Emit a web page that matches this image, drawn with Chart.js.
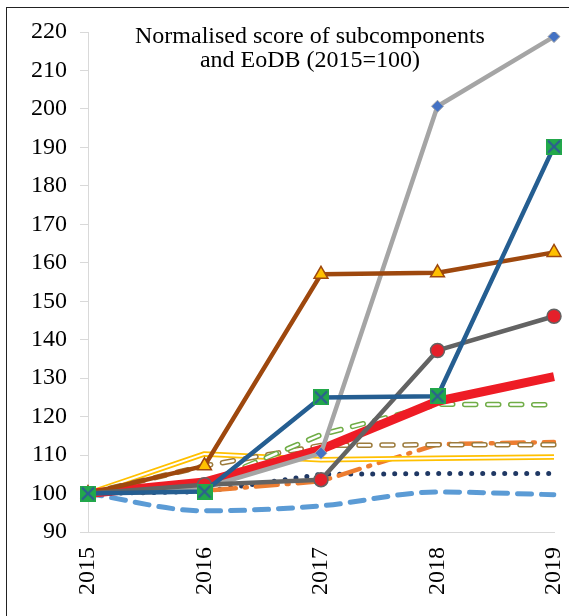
<!DOCTYPE html>
<html>
<head>
<meta charset="utf-8">
<script src="https://cdn.jsdelivr.net/npm/chart.js@4"></script>
<style>
  html, body { margin:0; padding:0; background:#fff; overflow:hidden; }
  #wrap { position:relative; width:569px; height:616px; }
  #frame { position:absolute; left:6px; top:7px; width:700px; height:700px; border:1.5px solid #222; }
  canvas { position:absolute; left:0; top:0; }
</style>
</head>
<body>
<div id="wrap">
  <div id="frame"></div>
  <canvas id="rel1" width="569" height="616"></canvas>
</div>
<script>
var years = ['2015', '2016', '2017', '2018', '2019'];
var titleLines = ['Normalised score of subcomponents', 'and EoDB (2015=100)'];

// series (2015 = 100)
var lightGray = [100, 101.5, 110.5, 200.7, 218.8];
var darkBlue = [100, 100.5, 125, 125.3, 190.2];
var brown = [100, 107.2, 157, 157.4, 162.7];
var darkGray = [100, 102.3, 103.6, 137.2, 146.1];
var red = [100, 103, 111.5, 124, 130.4];
var green = [100, 102.5, 115.3, 123.2, 123.1];
var olive = [100, 107.2, 112.5, 112.7, 112.7];
var yellow = [100, 110.3, 108.8, 109.2, 109.5];
var orange = [100, 100.7, 103.2, 112.8, 113.4];
var navy = [100, 100.5, 105, 105.2, 105.2];
var lightBlue = [100, 95.5, 96.8, 100.4, 99.7];

// marcador quadrado verde com X azul
var sqX = document.createElement('canvas');
sqX.width = 16; sqX.height = 16;
var c = sqX.getContext('2d');
c.fillStyle = '#22A84A';
c.fillRect(0, 0, 16, 16);
c.strokeStyle = '#2E5C94';
c.lineWidth = 2;
c.beginPath();
c.moveTo(2, 2); c.lineTo(14, 14);
c.moveTo(14, 2); c.lineTo(2, 14);
c.stroke();

var serif = "'Liberation Serif', 'Times New Roman', serif";

var titlePlugin = {
	id: 'innerTitle',
	afterDraw: function(chart) {
		var ctx = chart.ctx;
		ctx.save();
		ctx.font = '24px ' + serif;
		ctx.fillStyle = '#000';
		ctx.textAlign = 'center';
		ctx.textBaseline = 'alphabetic';
		ctx.fillText(titleLines[0], 310, 43);
		ctx.fillText(titleLines[1], 310, 67);
		ctx.restore();
	}
};

function noPt() { return { pointRadius:0, pointHoverRadius:0 }; }

var rel1 = new Chart(document.getElementById('rel1'), {
	type:'line',
	data:{
		labels:years,
		datasets:[
		Object.assign({ label:'darkBlue', data:darkBlue, borderColor:'#255E91', borderWidth:4.5,
			pointStyle:sqX, pointRadius:8, order:1 }),
		Object.assign({ label:'darkGray', data:darkGray, borderColor:'#636363', borderWidth:4.5,
			pointStyle:'circle', pointRadius:7, pointBackgroundColor:'#E4202A', pointBorderColor:'#636363', pointBorderWidth:1.5, order:2 }),
		Object.assign({ label:'brown', data:brown, borderColor:'#9E480E', borderWidth:4.5,
			pointStyle:'triangle', pointRadius:8, pointBackgroundColor:'#FFC000', pointBorderColor:'#9E480E', pointBorderWidth:1.5, order:3 }),
		Object.assign({ label:'lightGray', data:lightGray, borderColor:'#A5A5A5', borderWidth:4.5,
			pointStyle:'rectRot', pointRadius:6, pointBackgroundColor:'#4472C4', pointBorderColor:'#A5A5A5', pointBorderWidth:1, order:4 }),
		Object.assign({ label:'red', data:red, borderColor:'#EE1C25', borderWidth:9, order:5 }, noPt()),
		Object.assign({ label:'greenIn', data:green, borderColor:'#fff', borderWidth:2.5, borderDash:[11, 12], borderCapStyle:'round', order:6 }, noPt()),
		Object.assign({ label:'green', data:green, borderColor:'#70AD47', borderWidth:5.5, borderDash:[11, 12], borderCapStyle:'round', order:7 }, noPt()),
		Object.assign({ label:'oliveIn', data:olive, borderColor:'#fff', borderWidth:2.5, borderDash:[11, 12], borderCapStyle:'round', order:8 }, noPt()),
		Object.assign({ label:'olive', data:olive, borderColor:'#9C7B3C', borderWidth:5.5, borderDash:[11, 12], borderCapStyle:'round', order:9 }, noPt()),
		Object.assign({ label:'yellowIn', data:yellow, borderColor:'#fff', borderWidth:2, order:10 }, noPt()),
		Object.assign({ label:'yellow', data:yellow, borderColor:'#FFC000', borderWidth:5.5, order:11 }, noPt()),
		Object.assign({ label:'orange', data:orange, borderColor:'#ED7D31', borderWidth:4.5, borderDash:[22, 9, 2, 9], borderCapStyle:'round', order:12 }, noPt()),
		Object.assign({ label:'navy', data:navy, borderColor:'#1F3864', borderWidth:5, borderDash:[0, 11], borderCapStyle:'round', order:13 }, noPt()),
		Object.assign({ label:'lightBlue', data:lightBlue, borderColor:'#5B9BD5', borderWidth:5, borderDash:[14, 10], borderCapStyle:'round', cubicInterpolationMode:'monotone', order:14 }, noPt())
		]
	},
	options:{
		responsive:false,
		animation:false,
		layout:{ padding:{ left:0, right:15, top:32, bottom:0 } },
		plugins:{ legend:{ display:false }, tooltip:{ enabled:false } },
		elements:{ line:{ fill:false, borderJoinStyle:'round' } },
		scales:{
			x:{
				offset:false,
				grid:{ display:false, drawTicks:false },
				border:{ display:true, color:'#D9D9D9', width:1 },
				ticks:{ color:'#000', font:{ family:serif, size:24 }, minRotation:90, maxRotation:90, padding:15 },
				afterFit:function(s) { s.height = 84; s.paddingLeft = 0; s.paddingRight = 0; }
			},
			y:{
				min:90, max:220,
				grid:{ drawOnChartArea:false, drawTicks:true, tickLength:8, color:'#D9D9D9' },
				border:{ display:true, color:'#D9D9D9', width:1 },
				ticks:{ stepSize:10, color:'#000', font:{ family:serif, size:24 }, padding:13 },
				afterFit:function(s) { s.width = 88; }
			}
		}
	},
	plugins:[titlePlugin]
});
</script>
</body>
</html>
